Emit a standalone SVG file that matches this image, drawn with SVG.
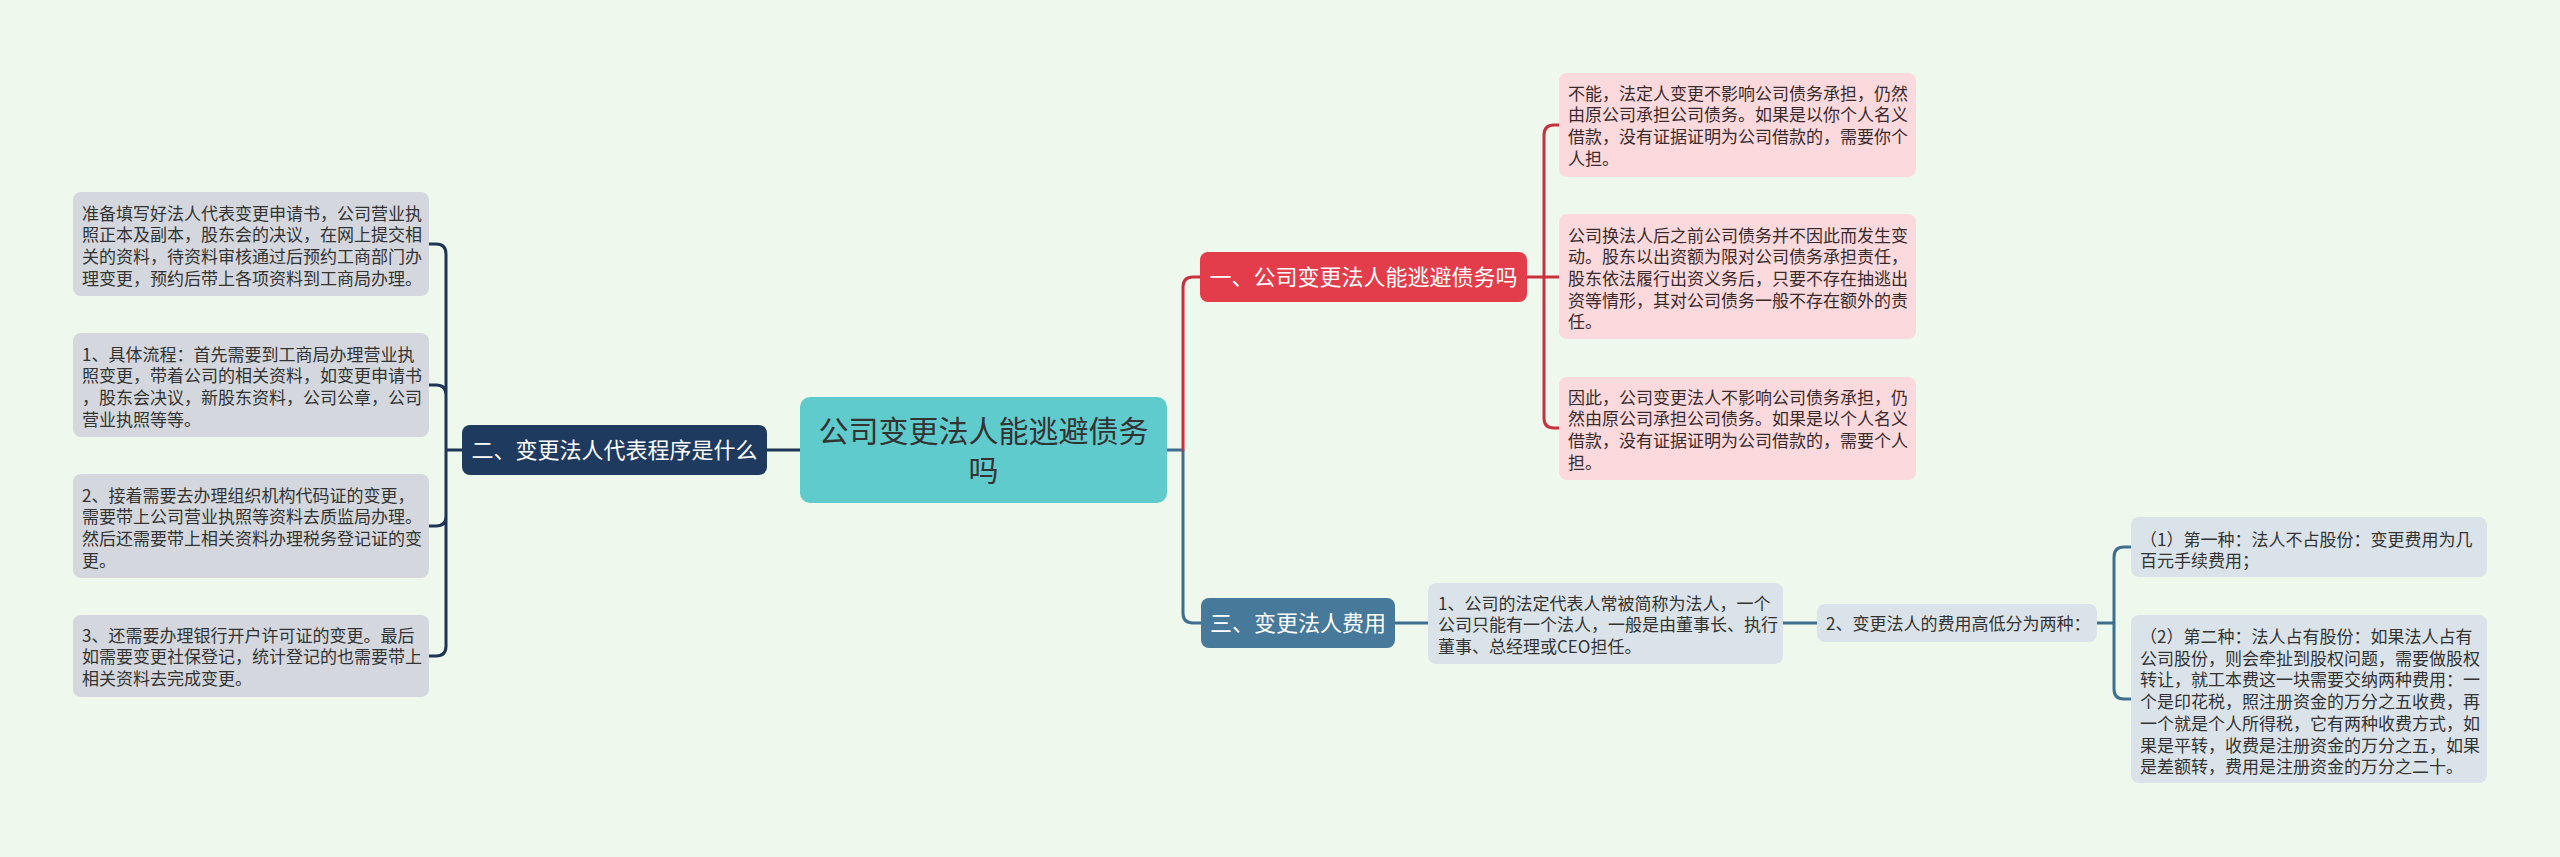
<svg xmlns="http://www.w3.org/2000/svg" width="2560" height="857" viewBox="0 0 2560 857">
<style>
text{font-family:"Noto Sans CJK SC","Noto Sans",sans-serif;}
.leaf{font-size:17px;fill:#333333;}
.pink{font-size:17px;fill:#3a2a2c;}
.main{font-size:22px;fill:#ffffff;text-anchor:middle;}
.root{font-size:30px;fill:#333333;text-anchor:middle;}
.c{fill:none;stroke-width:3;stroke-linecap:round;stroke-linejoin:round;}
.navy{stroke:#1d3557;}
.red{stroke:#c8323f;}
.blue{stroke:#3f6f90;}
</style>
<rect x="0" y="0" width="2560" height="857" fill="#eff8ed"/>
<g id="connectors">
<path class="c navy" d="M800 450 H767"/>
<path class="c navy" d="M462 450 H446 M446 450 V254 Q446 244 436 244 H429 M446 450 V395 Q446 385 436 385 H429 M446 450 V516 Q446 526 436 526 H429 M446 450 V646 Q446 656 436 656 H429"/>
<path class="c blue" d="M1167 450 H1183 V613 Q1183 623 1193 623 H1201"/>
<path class="c red" d="M1183 450 V287 Q1183 277 1193 277 H1200"/>
<path class="c red" d="M1527 277 H1559 M1544 277 V135 Q1544 125 1554 125 H1559 M1544 277 V418 Q1544 428 1554 428 H1559"/>
<path class="c blue" d="M1395 623 H1428 M1783 623 H1817 M2097 623 H2114 V557 Q2114 547 2124 547 H2131 M2114 623 V689 Q2114 699 2124 699 H2131"/>
</g>
<g id="root">
<rect x="800" y="397" width="367" height="106" rx="10" fill="#60cbcd"/>
<text class="root" x="983.5" y="442">公司变更法人能逃避债务</text>
<text class="root" x="983.5" y="481">吗</text>
</g>
<g id="n2">
<rect x="462" y="425" width="305" height="50" rx="8" fill="#1f3a5f"/>
<text class="main" x="614.5" y="458">二、变更法人代表程序是什么</text>
</g>
<g id="n2a">
<rect x="73" y="192" width="356" height="104" rx="8" fill="#d4d8de"/>
<text class="leaf" x="82" y="219.5">准备填写好法人代表变更申请书，公司营业执</text>
<text class="leaf" x="82" y="241.2">照正本及副本，股东会的决议，在网上提交相</text>
<text class="leaf" x="82" y="262.9">关的资料，待资料审核通过后预约工商部门办</text>
<text class="leaf" x="82" y="284.6">理变更，预约后带上各项资料到工商局办理。</text>
</g>
<g id="n2b">
<rect x="73" y="333" width="356" height="104" rx="8" fill="#d4d8de"/>
<text class="leaf" x="82" y="360.5">1、具体流程：首先需要到工商局办理营业执</text>
<text class="leaf" x="82" y="382.2">照变更，带着公司的相关资料，如变更申请书</text>
<text class="leaf" x="82" y="403.9">，股东会决议，新股东资料，公司公章，公司</text>
<text class="leaf" x="82" y="425.6">营业执照等等。</text>
</g>
<g id="n2c">
<rect x="73" y="474" width="356" height="104" rx="8" fill="#d4d8de"/>
<text class="leaf" x="82" y="501.5">2、接着需要去办理组织机构代码证的变更，</text>
<text class="leaf" x="82" y="523.2">需要带上公司营业执照等资料去质监局办理。</text>
<text class="leaf" x="82" y="544.9">然后还需要带上相关资料办理税务登记证的变</text>
<text class="leaf" x="82" y="566.6">更。</text>
</g>
<g id="n2d">
<rect x="73" y="615" width="356" height="82" rx="8" fill="#d4d8de"/>
<text class="leaf" x="82" y="641.5">3、还需要办理银行开户许可证的变更。最后</text>
<text class="leaf" x="82" y="663.2">如需要变更社保登记，统计登记的也需要带上</text>
<text class="leaf" x="82" y="684.9">相关资料去完成变更。</text>
</g>
<g id="n1">
<rect x="1200" y="252" width="327" height="50" rx="8" fill="#e33c4a"/>
<text class="main" x="1363.5" y="285">一、公司变更法人能逃避债务吗</text>
</g>
<g id="n1a">
<rect x="1559" y="73" width="357" height="104" rx="8" fill="#fbd9dd"/>
<text class="pink" x="1568" y="99.5">不能，法定人变更不影响公司债务承担，仍然</text>
<text class="pink" x="1568" y="121.2">由原公司承担公司债务。如果是以你个人名义</text>
<text class="pink" x="1568" y="142.9">借款，没有证据证明为公司借款的，需要你个</text>
<text class="pink" x="1568" y="164.6">人担。</text>
</g>
<g id="n1b">
<rect x="1559" y="214" width="357" height="125" rx="8" fill="#fbd9dd"/>
<text class="pink" x="1568" y="241.5">公司换法人后之前公司债务并不因此而发生变</text>
<text class="pink" x="1568" y="263.2">动。股东以出资额为限对公司债务承担责任，</text>
<text class="pink" x="1568" y="284.9">股东依法履行出资义务后，只要不存在抽逃出</text>
<text class="pink" x="1568" y="306.6">资等情形，其对公司债务一般不存在额外的责</text>
<text class="pink" x="1568" y="328.3">任。</text>
</g>
<g id="n1c">
<rect x="1559" y="377" width="357" height="103" rx="8" fill="#fbd9dd"/>
<text class="pink" x="1568" y="403.5">因此，公司变更法人不影响公司债务承担，仍</text>
<text class="pink" x="1568" y="425.2">然由原公司承担公司债务。如果是以个人名义</text>
<text class="pink" x="1568" y="446.9">借款，没有证据证明为公司借款的，需要个人</text>
<text class="pink" x="1568" y="468.6">担。</text>
</g>
<g id="n3">
<rect x="1201" y="598" width="194" height="50" rx="8" fill="#46799a"/>
<text class="main" x="1298" y="631">三、变更法人费用</text>
</g>
<g id="n3a">
<rect x="1428" y="583" width="355" height="81" rx="8" fill="#dbe3ea"/>
<text class="leaf" x="1438" y="609.5">1、公司的法定代表人常被简称为法人，一个</text>
<text class="leaf" x="1438" y="631.2">公司只能有一个法人，一般是由董事长、执行</text>
<text class="leaf" x="1438" y="652.9">董事、总经理或CEO担任。</text>
</g>
<g id="n3b">
<rect x="1817" y="604" width="280" height="38" rx="8" fill="#dbe3ea"/>
<text class="leaf" x="1826" y="629.5">2、变更法人的费用高低分为两种：</text>
</g>
<g id="n3c">
<rect x="2131" y="517" width="356" height="60" rx="8" fill="#dbe3ea"/>
<text class="leaf" x="2140" y="545.5">（1）第一种：法人不占股份：变更费用为几</text>
<text class="leaf" x="2140" y="567.2">百元手续费用；</text>
</g>
<g id="n3d">
<rect x="2131" y="615" width="356" height="168" rx="8" fill="#dbe3ea"/>
<text class="leaf" x="2140" y="643">（2）第二种：法人占有股份：如果法人占有</text>
<text class="leaf" x="2140" y="664.7">公司股份，则会牵扯到股权问题，需要做股权</text>
<text class="leaf" x="2140" y="686.4">转让，就工本费这一块需要交纳两种费用：一</text>
<text class="leaf" x="2140" y="708.1">个是印花税，照注册资金的万分之五收费，再</text>
<text class="leaf" x="2140" y="729.8">一个就是个人所得税，它有两种收费方式，如</text>
<text class="leaf" x="2140" y="751.5">果是平转，收费是注册资金的万分之五，如果</text>
<text class="leaf" x="2140" y="773.2">是差额转，费用是注册资金的万分之二十。</text>
</g>
</svg>
